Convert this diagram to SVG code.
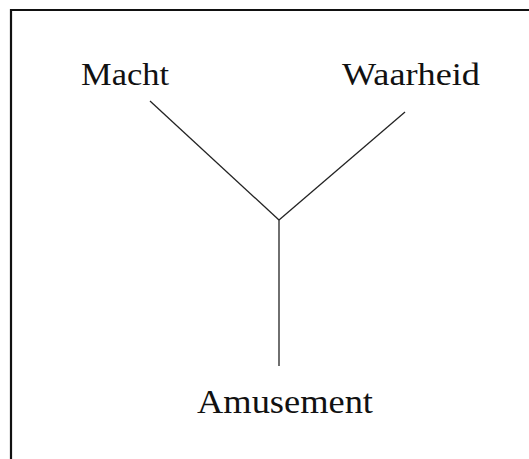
<svg xmlns="http://www.w3.org/2000/svg" width="529" height="459" viewBox="0 0 529 459">
<style>
.lbl{font-family:"Liberation Serif","Times New Roman",serif;font-size:32px;fill:#111}
.big{font-size:34px}
.ln{stroke:#222;stroke-width:1.3;fill:none}
</style>
<rect width="529" height="459" fill="#fff"/>
<path d="M11,459 V10 H529" fill="none" stroke="#111" stroke-width="2.2"/>
<g id="connectors">
<line class="ln" x1="150" y1="101" x2="279" y2="220"/>
<line class="ln" x1="405" y1="112" x2="279" y2="220"/>
<line class="ln" x1="279" y1="220" x2="279" y2="366"/>
</g>
<g id="macht"><text class="lbl" x="81" y="85" textLength="88" lengthAdjust="spacingAndGlyphs">Macht</text></g>
<g id="waarheid"><text class="lbl" x="342" y="85" textLength="138" lengthAdjust="spacingAndGlyphs">Waarheid</text></g>
<g id="amusement"><text class="lbl big" x="197" y="413" textLength="176" lengthAdjust="spacingAndGlyphs">Amusement</text></g>
</svg>
